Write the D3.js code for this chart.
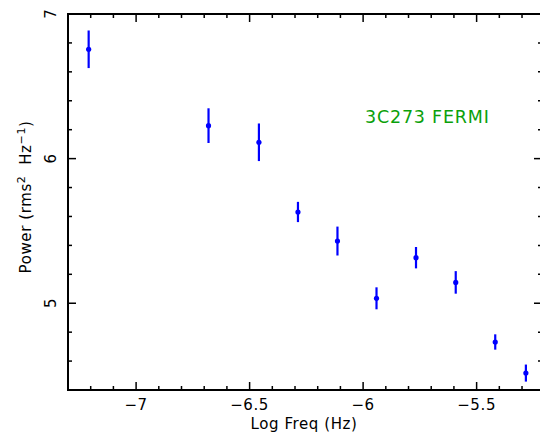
<!DOCTYPE html>
<html>
<head>
    <meta charset="utf-8">
    <style>
        body { margin: 0; background: #fff; }
        text { font-family: "DejaVu Sans", "Liberation Sans", sans-serif; }
    </style>
</head>
<body>
    <svg width="540" height="434"></svg>
    <script src="https://d3js.org/d3.v7.min.js"></script>
    <script>
        // log frequency (Hz), power and 1-sigma error
        let logFreq = [-7.209, -6.681, -6.459, -6.287, -6.113, -5.941, -5.767, -5.592, -5.418, -5.283];
        let power   = [6.756, 6.228, 6.113, 5.631, 5.430, 5.034, 5.315, 5.144, 4.732, 4.517];
        let powErr  = [0.13, 0.12, 0.13, 0.07, 0.10, 0.076, 0.074, 0.078, 0.053, 0.059];
        let xTicks = [-7, -6.5, -6, -5.5];
        let yTicks = [5, 6, 7];

        let pLeft = 68, pRight = 542, pTop = 14, pBottom = 390;
        let svg = d3.select("svg");

        let x = d3.scaleLinear().domain([-7.3, -5.212]).range([pLeft, pRight]);
        let y = d3.scaleLinear().domain([4.4, 7]).range([pBottom, pTop]);

        let xMinor = d3.range(-7.3, -5.2, 0.1).map(function(d) { return Math.round(d * 10) / 10; })
            .filter(function(d) { return d >= -7.3 && d <= -5.212; });
        let yMinor = d3.range(4.4, 7.01, 0.2).map(function(d) { return Math.round(d * 10) / 10; });

        function isMajor(v, list) {
            return list.some(function(t) { return Math.abs(t - v) < 1e-6; });
        }

        let ax = svg.append("g").attr("stroke", "#000").attr("stroke-width", 1.5);

        // ticks pointing inward on all four sides
        xMinor.forEach(function(v) {
            let len = isMajor(v, xTicks) ? 8 : 4;
            ax.append("line").attr("x1", x(v)).attr("x2", x(v)).attr("y1", pBottom).attr("y2", pBottom - len);
            ax.append("line").attr("x1", x(v)).attr("x2", x(v)).attr("y1", pTop).attr("y2", pTop + len);
        });
        yMinor.forEach(function(v) {
            let len = isMajor(v, yTicks) ? 8 : 4;
            ax.append("line").attr("y1", y(v)).attr("y2", y(v)).attr("x1", pLeft).attr("x2", pLeft + len);
            ax.append("line").attr("y1", y(v)).attr("y2", y(v)).attr("x1", pRight).attr("x2", pRight - len);
        });

        svg.append("rect")
            .attr("x", pLeft).attr("y", pTop)
            .attr("width", pRight - pLeft).attr("height", pBottom - pTop)
            .attr("fill", "none").attr("stroke", "#000").attr("stroke-width", 2);

        // tick labels
        svg.append("g").selectAll("text")
            .data(xTicks).enter().append("text")
            .attr("x", function(d) { return x(d); })
            .attr("y", 410)
            .attr("text-anchor", "middle")
            .attr("font-size", 15)
            .attr("letter-spacing", 0.6)
            .text(function(d) { return "\u2212" + Math.abs(d); });

        svg.append("g").selectAll("text")
            .data(yTicks).enter().append("text")
            .attr("transform", function(d) { return "translate(56," + y(d) + ") rotate(-90)"; })
            .attr("text-anchor", "middle")
            .attr("font-size", 15)
            .text(function(d) { return d; });

        // axis titles
        svg.append("text")
            .attr("x", 304).attr("y", 429)
            .attr("text-anchor", "middle")
            .attr("font-size", 15)
            .attr("letter-spacing", 0.6)
            .text("Log Freq (Hz)");

        let yl = svg.append("text")
            .attr("transform", "translate(31,197) rotate(-90)")
            .attr("text-anchor", "middle")
            .attr("font-size", 15)
            .attr("letter-spacing", 0.6);
        yl.append("tspan").text("Power (rms");
        yl.append("tspan").attr("dy", -6).attr("font-size", 11).text("2");
        yl.append("tspan").attr("dy", 6).text("\u00a0\u00a0Hz");
        yl.append("tspan").attr("dy", -6).attr("font-size", 11).text("\u22121");
        yl.append("tspan").attr("dy", 6).text(")");

        // label
        svg.append("text")
            .attr("x", 365).attr("y", 123)
            .attr("font-size", 17.5)
            .attr("letter-spacing", 0.8)
            .attr("fill", "#0aa00a")
            .text("3C273 FERMI");

        // error bars and points
        let pts = logFreq.map(function(f, i) { return { f: f, p: power[i], e: powErr[i] }; });
        let g = svg.append("g");
        g.selectAll("line.err").data(pts).enter().append("line")
            .attr("class", "err")
            .attr("x1", function(d) { return x(d.f); })
            .attr("x2", function(d) { return x(d.f); })
            .attr("y1", function(d) { return y(d.p + d.e); })
            .attr("y2", function(d) { return y(d.p - d.e); })
            .attr("stroke", "#0000ff")
            .attr("stroke-width", 2.2);
        g.selectAll("circle").data(pts).enter().append("circle")
            .attr("cx", function(d) { return x(d.f); })
            .attr("cy", function(d) { return y(d.p); })
            .attr("r", 2.6)
            .attr("fill", "#0000ff");
    </script>
</body>
</html>
